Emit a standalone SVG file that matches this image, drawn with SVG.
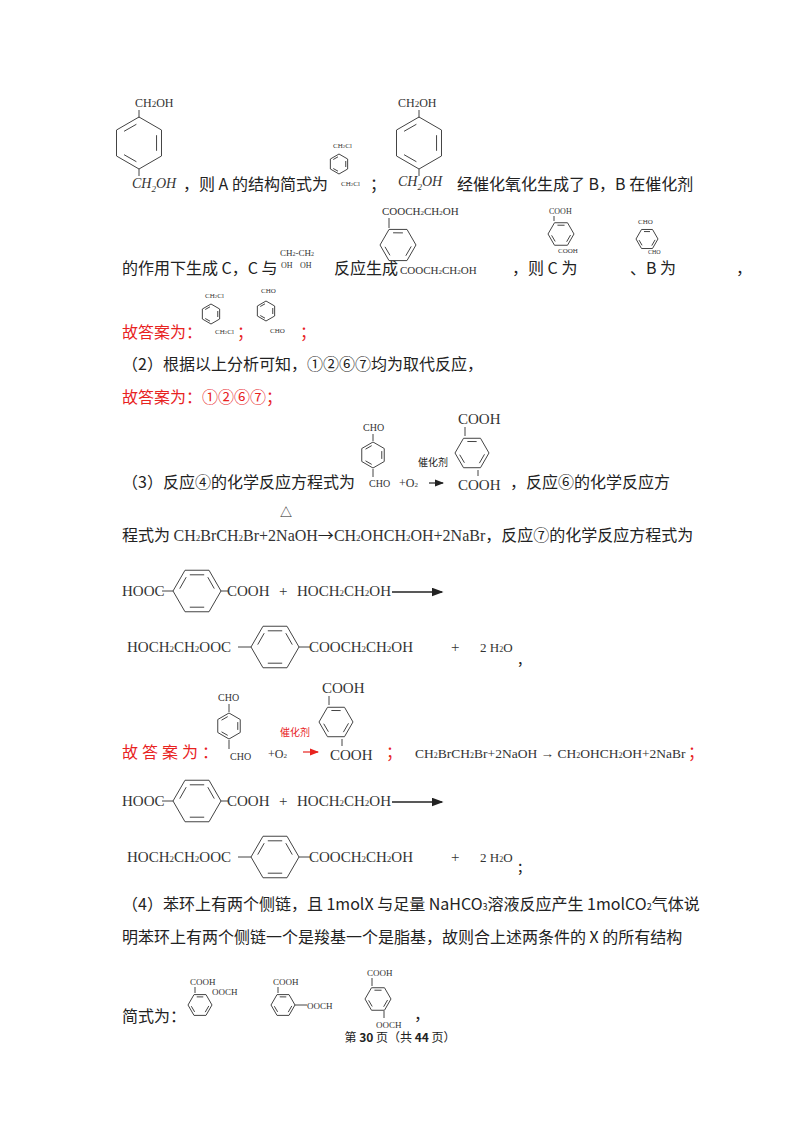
<svg xmlns="http://www.w3.org/2000/svg" width="800" height="1132" viewBox="0 0 800 1132">
<style>
text{font-family:"Noto Sans CJK SC","Liberation Serif",serif;fill:#222}
.t{font-size:16px}
.r{fill:#e8231f}
.c{font-family:"Liberation Serif","Noto Sans CJK SC",serif;fill:#333}
.s{font-size:9px}
.m{font-size:12px}
.b{font-size:15px}
.i{font-style:italic}
.ln{stroke:#444;stroke-width:1;fill:none;vector-effect:non-scaling-stroke}
</style>
<defs>
<g id="ringV">
<polygon class="ln" points="0,-20 17.3,-10 17.3,10 0,20 -17.3,10 -17.3,-10"/>
<path class="ln" d="M-11.5,-9L-2,-14.4M13.5,-6L13.5,6M-2,14.4L-11.5,9"/>
</g>
<g id="ringH">
<polygon class="ln" points="-20,0 -10,-17.3 10,-17.3 20,0 10,17.3 -10,17.3"/>
<path class="ln" d="M-9,-11.5L-14.4,-2M-6,-13.5L6,-13.5M9,-11.5L14.4,-2M-6,13.5L6,13.5"/>
</g>
<marker id="ah" markerWidth="8" markerHeight="6" refX="7" refY="3" orient="auto"><path d="M0,0L8,3L0,6z" fill="#222"/></marker>
<marker id="ahr" markerWidth="8" markerHeight="6" refX="7" refY="3" orient="auto"><path d="M0,0L8,3L0,6z" fill="#e8231f"/></marker>
</defs>

<!-- line 1 -->
<g id="s1">
<text class="c m" x="135" y="107">CH<tspan class="s">2</tspan>OH</text>
<line class="ln" x1="139" y1="110" x2="139" y2="118"/>
<use href="#ringV" transform="translate(139,143) scale(1.3)"/>
<line class="ln" x1="139" y1="169" x2="139" y2="176"/>
<text class="c i" font-size="14" x="132" y="188">CH<tspan font-size="9" dy="4">2</tspan><tspan dy="-4">OH</tspan></text>
</g>
<text class="t" x="183" y="190">，则 A 的结构简式为</text>
<g id="s2">
<text class="c" font-size="7" x="333" y="148">CH<tspan font-size="5">2</tspan>Cl</text>
<use href="#ringV" transform="translate(339,164) scale(0.5)"/>
<text class="c" font-size="7" x="341" y="186">CH<tspan font-size="5">2</tspan>Cl</text>
</g>
<text class="t" x="370" y="190">；</text>
<g id="s3">
<text class="c m" x="398" y="107">CH<tspan class="s">2</tspan>OH</text>
<line class="ln" x1="419" y1="110" x2="419" y2="118"/>
<use href="#ringV" transform="translate(419,143) scale(1.3)"/>
<line class="ln" x1="419" y1="169" x2="419" y2="176"/>
<text class="c i" font-size="14" x="398" y="186">CH<tspan font-size="9" dy="4">2</tspan><tspan dy="-4">OH</tspan></text>
</g>
<text class="t" x="457" y="190">经催化氧化生成了 B，B 在催化剂</text>

<!-- line 2 -->
<text class="t" x="122" y="274">的作用下生成 C，C 与</text>
<g id="s4">
<text class="c" font-size="9" x="280" y="256">CH<tspan font-size="6">2</tspan>-CH<tspan font-size="6">2</tspan></text>
<text class="c" font-size="8" x="281" y="268">OH</text>
<text class="c" font-size="8" x="300" y="268">OH</text>
</g>
<text class="t" x="334" y="274">反应生成</text>
<g id="s5">
<text class="c" font-size="11" x="382" y="215">COOCH<tspan font-size="7">2</tspan>CH<tspan font-size="7">2</tspan>OH</text>
<line class="ln" x1="389" y1="218" x2="389" y2="228"/>
<use href="#ringV" transform="translate(398,245) rotate(30) scale(0.9)"/>
<text class="c" font-size="11" x="400" y="274">COOCH<tspan font-size="7">2</tspan>CH<tspan font-size="7">2</tspan>OH</text>
</g>
<text class="t" x="512" y="274">，则 C 为</text>
<g id="s6">
<text class="c" font-size="8" x="549" y="214">COOH</text>
<line class="ln" x1="554" y1="216" x2="554" y2="221"/>
<use href="#ringV" transform="translate(561,234) rotate(30) scale(0.65)"/>
<text class="c" font-size="7" x="558" y="253">COOH</text>
</g>
<text class="t" x="630" y="274">、B 为</text>
<g id="s7">
<text class="c" font-size="7" x="638" y="224">CHO</text>
<use href="#ringV" transform="translate(647,239) rotate(30) scale(0.55)"/>
<text class="c" font-size="6" x="648" y="254">CHO</text>
</g>
<text class="t" x="736" y="274">，</text>

<!-- line 3 -->
<text class="t r" x="122" y="338">故答案为：</text>
<g id="s8">
<text class="c" font-size="7" x="205" y="298">CH<tspan font-size="5">2</tspan>Cl</text>
<use href="#ringV" transform="translate(211,314) scale(0.5)"/>
<text class="c" font-size="7" x="215" y="334">CH<tspan font-size="5">2</tspan>Cl</text>
</g>
<text class="t r" x="237" y="338">；</text>
<g id="s9">
<text class="c" font-size="7" x="261" y="293">CHO</text>
<use href="#ringV" transform="translate(266,311) scale(0.5)"/>
<text class="c" font-size="7" x="270" y="333">CHO</text>
</g>
<text class="t r" x="300" y="338">；</text>

<text class="t" x="122" y="370">（2）根据以上分析可知，①②⑥⑦均为取代反应，</text>
<text class="t r" x="122" y="403">故答案为：①②⑥⑦；</text>

<!-- (3) -->
<text class="t" x="122" y="488">（3）反应④的化学反应方程式为</text>
<g id="s10">
<text class="c" font-size="10" x="363" y="431">CHO</text>
<line class="ln" x1="373" y1="434" x2="373" y2="441"/>
<use href="#ringV" transform="translate(373,455) scale(0.65)"/>
<line class="ln" x1="373" y1="469" x2="373" y2="477"/>
<text class="c" font-size="10" x="369" y="487">CHO</text>
</g>
<text class="c" font-size="12" x="399" y="487">+O<tspan font-size="7">2</tspan></text>
<text style="font-size:10px" x="418" y="466">催化剂</text>
<line x1="429" y1="483" x2="443" y2="483" stroke="#222" stroke-width="1.2" marker-end="url(#ah)"/>
<g id="s11">
<text class="c b" x="458" y="424">COOH</text>
<line class="ln" x1="465" y1="427" x2="465" y2="436"/>
<use href="#ringV" transform="translate(472,453) rotate(30) scale(0.85)" />
<line class="ln" x1="478" y1="470" x2="478" y2="476"/>
<text class="c b" x="458" y="490">COOH</text>
</g>
<text class="t" x="510" y="488">，反应⑥的化学反应方</text>
<text style="font-size:12px" x="280" y="517">△</text>
<text class="t" x="122" y="541">程式为 <tspan class="c">CH<tspan font-size="9">2</tspan>BrCH<tspan font-size="9">2</tspan>Br+2NaOH</tspan><tspan>→</tspan><tspan class="c">CH<tspan font-size="9">2</tspan>OHCH<tspan font-size="9">2</tspan>OH+2NaBr</tspan>，反应⑦的化学反应方程式为</text>

<!-- eq 1 -->
<g id="e1">
<text class="c b" x="122" y="596">HOOC</text>
<line class="ln" x1="162" y1="591" x2="173" y2="591"/>
<use href="#ringH" transform="translate(197,591) scale(1.2)"/>
<line class="ln" x1="221" y1="591" x2="228" y2="591"/>
<text class="c b" x="227" y="596">COOH</text>
<text class="c b" x="279" y="596">+</text>
<text class="c b" x="297" y="596">HOCH<tspan font-size="9">2</tspan>CH<tspan font-size="9">2</tspan>OH</text>
<line x1="392" y1="592" x2="442" y2="592" stroke="#222" stroke-width="1.5" marker-end="url(#ah)"/>
</g>
<g id="e2">
<text class="c b" x="127" y="652">HOCH<tspan font-size="9">2</tspan>CH<tspan font-size="9">2</tspan>OOC</text>
<line class="ln" x1="238" y1="647" x2="251" y2="647"/>
<use href="#ringH" transform="translate(275,647) scale(1.2)"/>
<line class="ln" x1="299" y1="647" x2="310" y2="647"/>
<text class="c b" x="309" y="652">COOCH<tspan font-size="9">2</tspan>CH<tspan font-size="9">2</tspan>OH</text>
<text class="c b" x="451" y="652">+</text>
<text class="c" font-size="13" x="480" y="652">2 H<tspan font-size="8">2</tspan>O</text>
<text class="t" x="518" y="664">,</text>
</g>

<!-- answer -->
<text class="t r" x="122" y="758" letter-spacing="4">故答案为：</text>
<g id="s12">
<text class="c" font-size="10" x="218" y="701">CHO</text>
<line class="ln" x1="229" y1="704" x2="229" y2="712"/>
<use href="#ringV" transform="translate(229,726) scale(0.65)"/>
<line class="ln" x1="229" y1="740" x2="229" y2="749"/>
<text class="c" font-size="10" x="230" y="760">CHO</text>
</g>
<text class="c r" font-size="12" x="268" y="758">+O<tspan font-size="7">2</tspan></text>
<text class="r" style="font-size:10px" x="280" y="736">催化剂</text>
<line x1="303" y1="752" x2="318" y2="752" stroke="#e8231f" stroke-width="1.2" marker-end="url(#ahr)"/>
<g id="s13">
<text class="c b" x="322" y="693">COOH</text>
<line class="ln" x1="329" y1="696" x2="329" y2="705"/>
<use href="#ringV" transform="translate(336,722) rotate(30) scale(0.85)"/>
<line class="ln" x1="342" y1="739" x2="342" y2="746"/>
<text class="c b" x="330" y="760">COOH</text>
</g>
<text class="t r" x="386" y="758">；</text>
<text class="c r" x="415" y="758" font-size="13.5">CH<tspan font-size="8">2</tspan>BrCH<tspan font-size="8">2</tspan>Br+2NaOH → CH<tspan font-size="8">2</tspan>OHCH<tspan font-size="8">2</tspan>OH+2NaBr</text>
<text class="t r" x="688" y="758">；</text>

<g id="e3">
<text class="c b" x="122" y="806">HOOC</text>
<line class="ln" x1="162" y1="801" x2="173" y2="801"/>
<use href="#ringH" transform="translate(197,801) scale(1.2)"/>
<line class="ln" x1="221" y1="801" x2="228" y2="801"/>
<text class="c b" x="227" y="806">COOH</text>
<text class="c b" x="279" y="806">+</text>
<text class="c b" x="297" y="806">HOCH<tspan font-size="9">2</tspan>CH<tspan font-size="9">2</tspan>OH</text>
<line x1="392" y1="802" x2="442" y2="802" stroke="#222" stroke-width="1.5" marker-end="url(#ah)"/>
</g>
<g id="e4">
<text class="c b" x="127" y="862">HOCH<tspan font-size="9">2</tspan>CH<tspan font-size="9">2</tspan>OOC</text>
<line class="ln" x1="238" y1="857" x2="251" y2="857"/>
<use href="#ringH" transform="translate(275,857) scale(1.2)"/>
<line class="ln" x1="299" y1="857" x2="310" y2="857"/>
<text class="c b" x="309" y="862">COOCH<tspan font-size="9">2</tspan>CH<tspan font-size="9">2</tspan>OH</text>
<text class="c b" x="451" y="862">+</text>
<text class="c" font-size="13" x="480" y="862">2 H<tspan font-size="8">2</tspan>O</text>
<text class="t" x="518" y="872">;</text>
</g>

<!-- (4) -->
<text class="t" x="122" y="910">（4）苯环上有两个侧链，且 1molX 与足量 NaHCO<tspan font-size="9">3</tspan>溶液反应产生 1molCO<tspan font-size="9">2</tspan>气体说</text>
<text class="t" x="122" y="943">明苯环上有两个侧链一个是羧基一个是脂基，故则合上述两条件的 X 的所有结构</text>
<text class="t" x="122" y="1022">简式为：</text>
<g id="s14">
<text class="c" font-size="9" x="190" y="985">COOH</text>
<line class="ln" x1="195" y1="987" x2="195" y2="993"/>
<use href="#ringV" transform="translate(200,1005) rotate(30) scale(0.6)"/>
<text class="c" font-size="9" x="212" y="995">OOCH</text>
</g>
<g id="s15">
<text class="c" font-size="9" x="273" y="985">COOH</text>
<line class="ln" x1="278" y1="987" x2="278" y2="993"/>
<use href="#ringV" transform="translate(283,1005) rotate(30) scale(0.6)"/>
<line class="ln" x1="295" y1="1005" x2="307" y2="1005"/>
<text class="c" font-size="9" x="307" y="1009">OOCH</text>
</g>
<g id="s16">
<text class="c" font-size="9" x="367" y="976">COOH</text>
<line class="ln" x1="372" y1="978" x2="372" y2="986"/>
<use href="#ringV" transform="translate(378,999) rotate(30) scale(0.65)"/>
<line class="ln" x1="384" y1="1011" x2="384" y2="1018"/>
<text class="c" font-size="9" x="376" y="1028">OOCH</text>
</g>
<text class="t" x="414" y="1020">，</text>
<text font-size="12" x="400" y="1042" text-anchor="middle">第 <tspan font-weight="bold">30</tspan> 页（共 <tspan font-weight="bold">44</tspan> 页）</text>
</svg>
